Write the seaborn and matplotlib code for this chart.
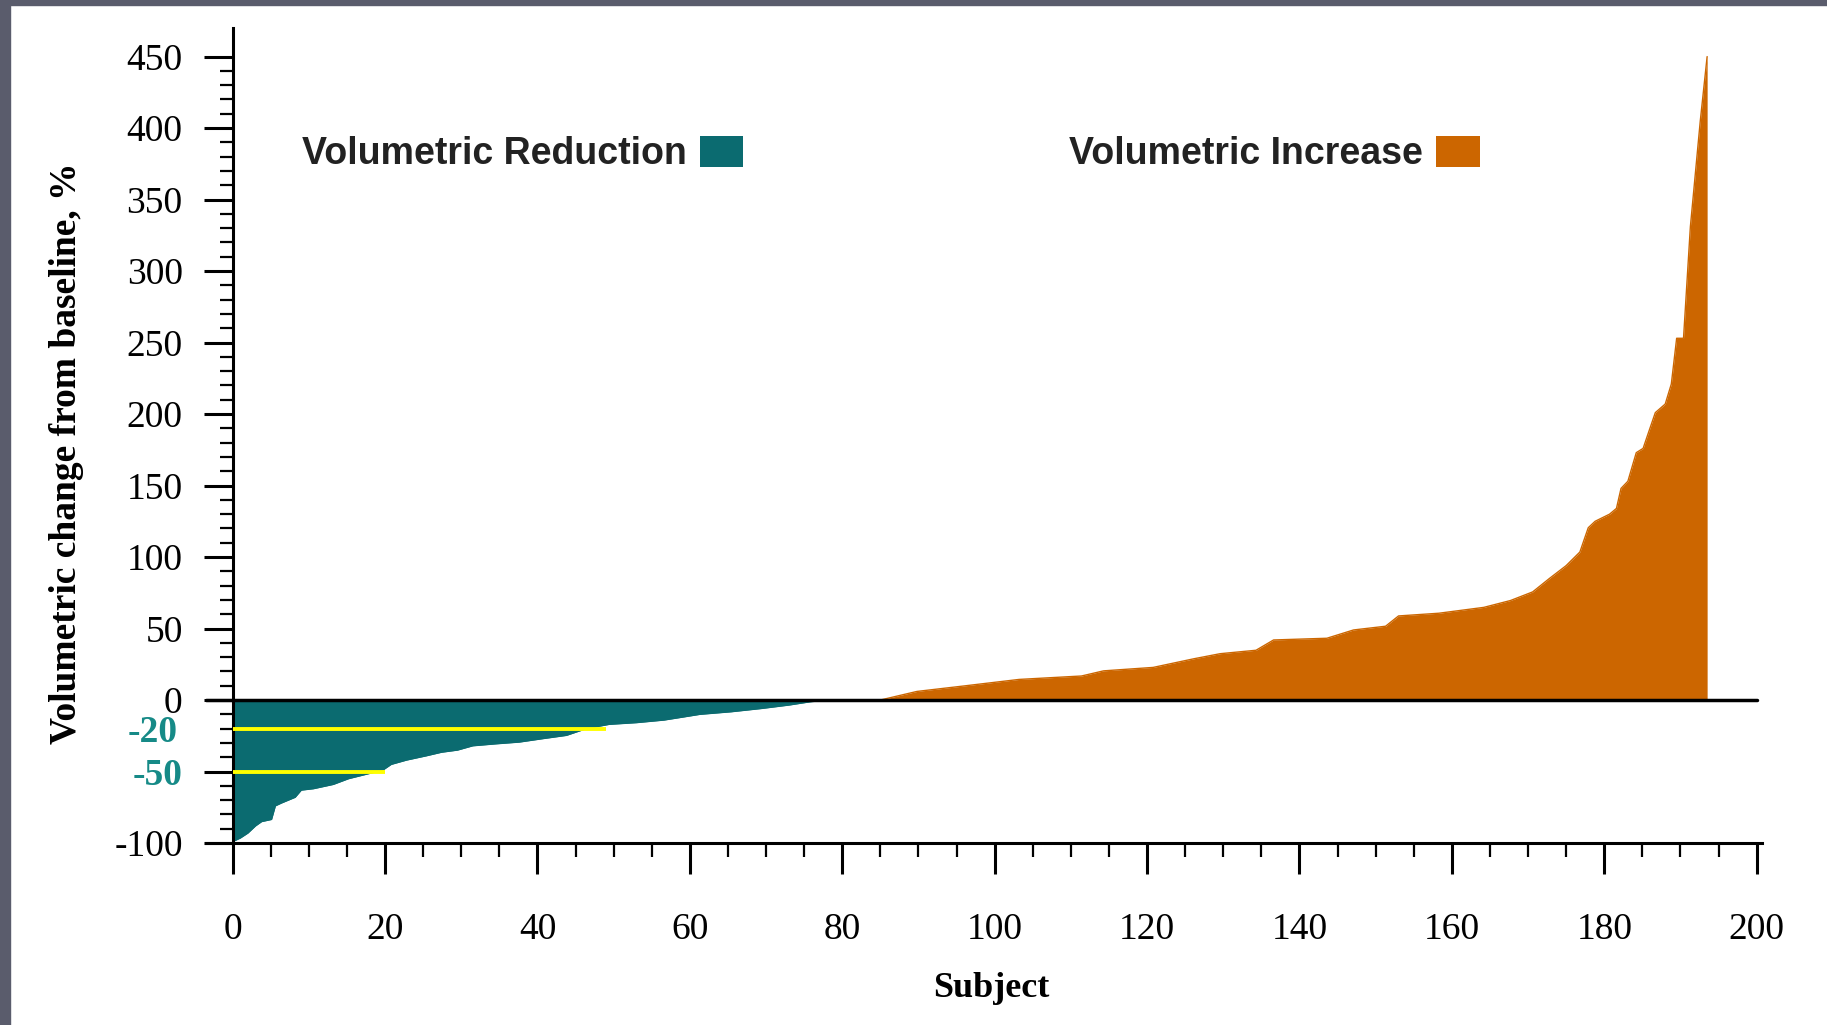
import numpy as np
import pandas as pd
import matplotlib
matplotlib.use("Agg")
import matplotlib.pyplot as plt
import seaborn as sns
from matplotlib.patches import Patch, Rectangle
from matplotlib.ticker import MultipleLocator, FixedLocator

# ---------------- data ----------------
reduction_subject = [0, 1, 2, 3, 3.8, 5.1, 5.6, 6.4, 8.2, 9, 10.6, 13.2, 15.2, 16.7,
                     19.7, 20.8, 22.8, 25.4, 27.4, 29.5, 31.5, 34.6, 37.6, 40.7,
                     43.8, 46.4, 49.4, 53, 56.6, 59.2, 61.3, 65.4, 69.4, 73, 75.8, 78]
reduction_change = [-99, -96.5, -93, -88, -85, -83.5, -74, -72, -68, -63, -62, -59,
                    -55, -53, -49, -45, -42, -39, -36.5, -35, -32, -30.6, -29.4, -27,
                    -24.7, -20, -17, -15.8, -14, -11.8, -10, -8.2, -5.9, -3.5, -1.2, 0]

increase_subject = [85, 89.8, 95.6, 103.2, 111.4, 114.3, 120.8, 126.1, 129.6, 134.3,
                    136.6, 143.6, 147.1, 151.3, 153, 158.3, 164.2, 167.7, 170.6, 172.8,
                    175, 176.8, 177.9, 178.8, 180.7, 181.6, 182.2, 183.1, 184.2, 185.1,
                    185.8, 186.7, 188, 188.8, 189.5, 190.4, 191.3, 192.6, 193.5]
increase_change = [0, 6, 9.6, 14.4, 16.8, 20.4, 22.8, 28.8, 32.4, 34.8,
                   42, 43.2, 49, 51.6, 58.8, 60.7, 64.8, 69.6, 75.6, 85,
                   94, 103.5, 120.5, 125, 130, 134, 148, 153, 173, 176,
                   187, 201, 207, 221, 253, 253, 331, 405, 450]

threshold_values = [-20, -50]
threshold_extent = [49, 20]

y_major_ticks = [-100, -50, 0, 50, 100, 150, 200, 250, 300, 350, 400, 450]
x_major_ticks = [0, 20, 40, 60, 80, 100, 120, 140, 160, 180, 200]
legend_labels = ["Volumetric Reduction", "Volumetric Increase"]

# ---------------- style ----------------
TEAL = "#0b6b70"
TEAL_TXT = "#168a87"
ORANGE = "#cc6600"
YELLOW = "#ffff00"
GRAY = "#5a5c6c"

sns.set_theme(style="ticks")
plt.rcParams['font.family'] = ['Liberation Serif', 'DejaVu Serif']

W, H = 1827, 1025
fig = plt.figure(figsize=(W / 100, H / 100), dpi=100, facecolor="white")
ax = fig.add_axes([206 / W, 1 - 843 / H, 1556 / W, 815 / H])
ax.set_facecolor("white")
ax.set_xlim(-3.5, 200.7)
ax.set_ylim(-100, 470)

neg = pd.DataFrame({"Subject": reduction_subject, "Change": reduction_change})
pos = pd.DataFrame({"Subject": increase_subject, "Change": increase_change})

ax.fill_between(neg["Subject"], 0, neg["Change"], color=TEAL, lw=0, zorder=2)
ax.fill_between(pos["Subject"], 0, pos["Change"], color=ORANGE, lw=0, zorder=2)
sns.lineplot(data=neg, x="Subject", y="Change", color=TEAL, lw=1, ax=ax,
             legend=False, zorder=2)
sns.lineplot(data=pos, x="Subject", y="Change", color=ORANGE, lw=1, ax=ax,
             legend=False, zorder=2)

# threshold lines
ax.hlines(threshold_values, 0, threshold_extent, colors=YELLOW, lw=2.8, zorder=3)

# zero line
x0, x1 = ax.get_xlim()
ax.axhline(0, xmin=0, xmax=(200 - x0) / (x1 - x0), color="black", lw=2.5, zorder=4)

# spines
for s in ["top", "right"]:
    ax.spines[s].set_visible(False)
ax.spines["left"].set_position(("data", 0))
for s in ["left", "bottom"]:
    ax.spines[s].set_linewidth(2.2)
    ax.spines[s].set_color("black")

# y ticks
ax.set_yticks(y_major_ticks)
ax.set_yticklabels([str(v) for v in y_major_ticks])
ax.yaxis.set_minor_locator(FixedLocator([v for v in range(-90, 450, 10) if v % 50 != 0]))
ax.tick_params(axis="y", which="major", direction="out", length=21, width=2.2,
               pad=15, labelsize=27, colors="black")
ax.tick_params(axis="y", which="minor", direction="out", length=9.5, width=1.6,
               color="black")
for lbl in ax.get_yticklabels():
    if lbl.get_text() == "-50":
        lbl.set_color(TEAL_TXT)
        lbl.set_fontweight("bold")

# "-20" label in teal (sits just below its minor tick, as in the reference)
ax.text(-0.018, -22.5, "-20", transform=ax.get_yaxis_transform(), ha="right", va="center",
        fontsize=27, fontweight="bold", color=TEAL_TXT)

# x ticks
ax.set_xticks(x_major_ticks)
ax.xaxis.set_minor_locator(MultipleLocator(5))
ax.tick_params(axis="x", which="major", direction="out", length=22, width=2.2,
               pad=28, labelsize=27, colors="black")
ax.tick_params(axis="x", which="minor", direction="out", length=10, width=1.6,
               color="black")

# axis labels
ax.set_xlabel("Subject", fontsize=26, fontweight="bold", color="black")
ax.set_ylabel("Volumetric change from baseline, %", fontsize=27, fontweight="bold",
              color="black")
ax.xaxis.set_label_coords((991 - 206) / 1556, (843 - 972) / 815)
ax.yaxis.set_label_coords((84 - 206) / 1556, (843 - 453) / 815)

# legend
handles = [Patch(facecolor=TEAL, edgecolor="none"), Patch(facecolor=ORANGE, edgecolor="none")]
fig.legend(handles, legend_labels, loc="center left",
           bbox_to_anchor=(302 / W, 1 - 154 / H), ncol=2, frameon=False,
           markerfirst=False, borderpad=0, borderaxespad=0,
           handlelength=1.15, handleheight=0.88, handletextpad=0.35,
           columnspacing=8.7, labelcolor="#222222",
           prop={"family": "Liberation Sans", "weight": "bold", "size": 27})

# gray frame strips (left and top)
fig.patches.append(Rectangle((0, 0), 10 / W, 1, transform=fig.transFigure,
                             color=GRAY, zorder=0))
fig.patches.append(Rectangle((0, 1 - 5 / H), 1, 5 / H, transform=fig.transFigure,
                             color=GRAY, zorder=0))

fig.savefig("out.png", dpi=100, facecolor="white")
